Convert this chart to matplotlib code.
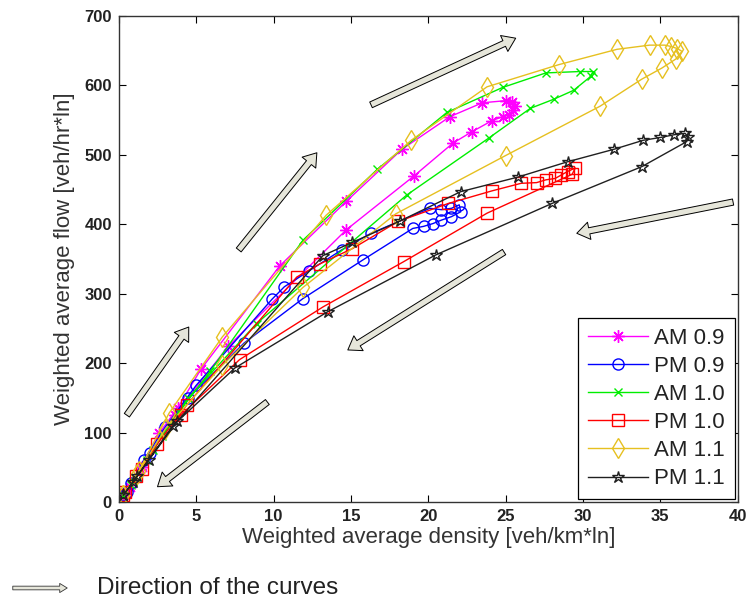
import numpy as np
import matplotlib
matplotlib.use("Agg")
import matplotlib.pyplot as plt
from matplotlib.patches import FancyArrowPatch
from matplotlib import font_manager

# data (density, flow), loading then unloading
am09_k = [0.3, 0.7, 1.4, 2.6, 3.8, 5.3, 10.4, 14.7, 18.3, 21.4, 23.5, 25.0, 25.4, 25.6, 25.5, 25.2,
          24.8, 24.1, 22.8, 21.6, 19.1, 14.7, 7.06, 3.6, 1.5, 0.4]
am09_q = [10, 22, 48, 99, 135, 191, 340, 433, 508, 555, 575, 578, 576, 571, 565, 558,
          555, 549, 533, 517, 470, 392, 224, 125, 50, 12]

pm09_k = [0.3, 0.8, 1.6, 3.0, 5.0, 9.9, 10.7, 12.3, 14.4, 16.3, 20.1, 20.85, 21.5, 22.0,
          22.1, 21.5, 20.85, 20.3, 19.7, 19.0, 15.8, 11.9, 8.1, 4.5, 2.0, 0.5]
pm09_q = [10, 27, 60, 108, 168, 292, 310, 333, 363, 387, 423, 421, 423, 428,
          418, 411, 406, 401, 397, 394, 349, 293, 229, 150, 70, 15]

am10_k = [0.3, 0.9, 1.8, 2.8, 3.9, 5.9, 11.9, 16.7, 21.2, 24.8, 27.6, 29.8, 30.65,
          30.5, 29.4, 28.1, 26.6, 23.9, 18.6, 8.9, 4.5, 2.2, 0.8, 0.3]
am10_q = [10, 30, 60, 95, 130, 188, 377, 479, 561, 597, 618, 620, 620,
          613, 593, 580, 567, 524, 442, 257, 150, 75, 25, 10]

pm10_k = [0.4, 1.1, 2.5, 4.4, 11.5, 13.0, 15.1, 18.05, 21.3, 24.1, 26.0, 27.0, 27.6, 28.2, 28.6,
          29.0, 29.5, 29.3, 23.8, 18.4, 13.2, 7.8, 4.0, 1.5, 0.3]
pm10_q = [15, 37, 84, 140, 324, 343, 365, 404, 430, 448, 459, 460, 464, 466, 471,
          476, 481, 472, 416, 346, 281, 205, 125, 48, 10]

am11_k = [0.3, 1.3, 3.25, 6.7, 13.4, 18.9, 23.8, 28.45, 32.2, 34.3, 35.3, 35.7, 36.1, 36.4,
          36.0, 35.1, 33.8, 31.1, 25.0, 17.9, 11.9, 6.7, 3.0, 1.2, 0.3]
am11_q = [10, 45, 128, 238, 413, 521, 598, 630, 652, 658, 658, 656, 653, 649,
          638, 625, 609, 570, 499, 415, 309, 197, 105, 40, 10]

pm11_k = [0.3, 0.93, 1.96, 3.77, 13.2, 15.1, 18.2, 22.1, 25.8, 29.0, 32.0, 33.9, 35.0, 35.9, 36.6,
          36.8, 36.7, 33.8, 28.0, 20.5, 13.5, 7.5, 3.5, 1.2, 0.3]
pm11_q = [10, 29, 61, 116, 355, 374, 405, 447, 468, 490, 508, 521, 525, 529, 531,
          526, 519, 483, 430, 356, 274, 193, 110, 38, 10]

labels = ["AM 0.9", "PM 0.9", "AM 1.0", "PM 1.0", "AM 1.1", "PM 1.1"]

names = [f.name for f in font_manager.fontManager.ttflist]
narrow = "Liberation Sans Narrow" if "Liberation Sans Narrow" in names else "Liberation Sans"
plt.rcParams["font.family"] = ["Liberation Sans", "DejaVu Sans"]

fig = plt.figure(figsize=(7.52, 6.03), dpi=100)
ax = fig.add_axes([0.158, 0.1675, 0.823, 0.806])

ax.plot(am09_k, am09_q, color="#ff00ff", lw=1.0, marker=(8, 2, 0), ms=9, mew=1.0, label=labels[0])
ax.plot(pm09_k, pm09_q, color="#0000ff", lw=1.0, marker="o", ms=8, mfc="none", mew=1.0, label=labels[1])
ax.plot(am10_k, am10_q, color="#00ee00", lw=1.0, marker="x", ms=6, mew=1.0, label=labels[2])
ax.plot(pm10_k, pm10_q, color="#ff0000", lw=1.0, marker="s", ms=9, mfc="none", mew=1.0, label=labels[3])
ax.plot(am11_k, am11_q, color="#e6c020", lw=1.0, marker="d", ms=10, mfc="none", mew=1.0, label=labels[4])
ax.plot(pm11_k, pm11_q, color="#202020", lw=1.0, marker="*", ms=9, mfc="none", mew=1.0, label=labels[5])

ax.set_xlim(0, 40)
ax.set_ylim(0, 700)
ax.set_xticks(np.arange(0, 41, 5))
ax.set_yticks(np.arange(0, 701, 100))
ax.tick_params(direction="in", length=5, top=True, right=True, labelsize=12,
               labelcolor="#222222", pad=5)
for lab in ax.get_xticklabels() + ax.get_yticklabels():
    lab.set_family(narrow)
    lab.set_fontweight("bold")
for s in ax.spines.values():
    s.set_linewidth(1.0)
    s.set_color("#333333")

ax.set_xlabel("Weighted average density [veh/km*ln]", fontsize=16, color="#333333", labelpad=2)
ax.set_ylabel("Weighted average flow [veh/hr*ln]", fontsize=16, color="#333333", labelpad=7)

leg = ax.legend(loc="lower right", bbox_to_anchor=(1.0, 0.0), borderaxespad=0.12, fontsize=16,
                handlelength=2.7, handletextpad=0.3, labelspacing=0.32, fancybox=False,
                edgecolor="black", framealpha=1, borderpad=0.45)
leg.get_frame().set_linewidth(0.9)
for t in leg.get_texts():
    t.set_color("#222222")

# direction arrows (tail, head) in data units
arrows = [((0.52, 125), (4.52, 252)),
          ((7.75, 363), (12.8, 503)),
          ((16.3, 572), (25.65, 668)),
          ((39.7, 432), (29.6, 387)),
          ((24.9, 360), (14.8, 219)),
          ((9.6, 144), (2.5, 22))]
for tail, head in arrows:
    ax.annotate("", xy=head, xytext=tail,
                arrowprops=dict(arrowstyle="simple,head_width=0.9,head_length=0.65,tail_width=0.32",
                                mutation_scale=14, fc="#e6e6da", ec="black", lw=0.7,
                                shrinkA=0, shrinkB=0))

# note under the chart
note_arrow = FancyArrowPatch((10 / 752, 1 - 588 / 603), (70 / 752, 1 - 588 / 603),
                             transform=fig.transFigure,
                             arrowstyle="simple,head_width=0.55,head_length=0.45,tail_width=0.22",
                             mutation_scale=12, fc="#e6e6da", ec="#333333", lw=0.6)
fig.patches.append(note_arrow)
fig.text(97 / 752, 1 - 588 / 603, "Direction of the curves", fontsize=17.5, color="#222222",
         va="center", ha="left", family=narrow)

fig.savefig("out.png", dpi=100)
